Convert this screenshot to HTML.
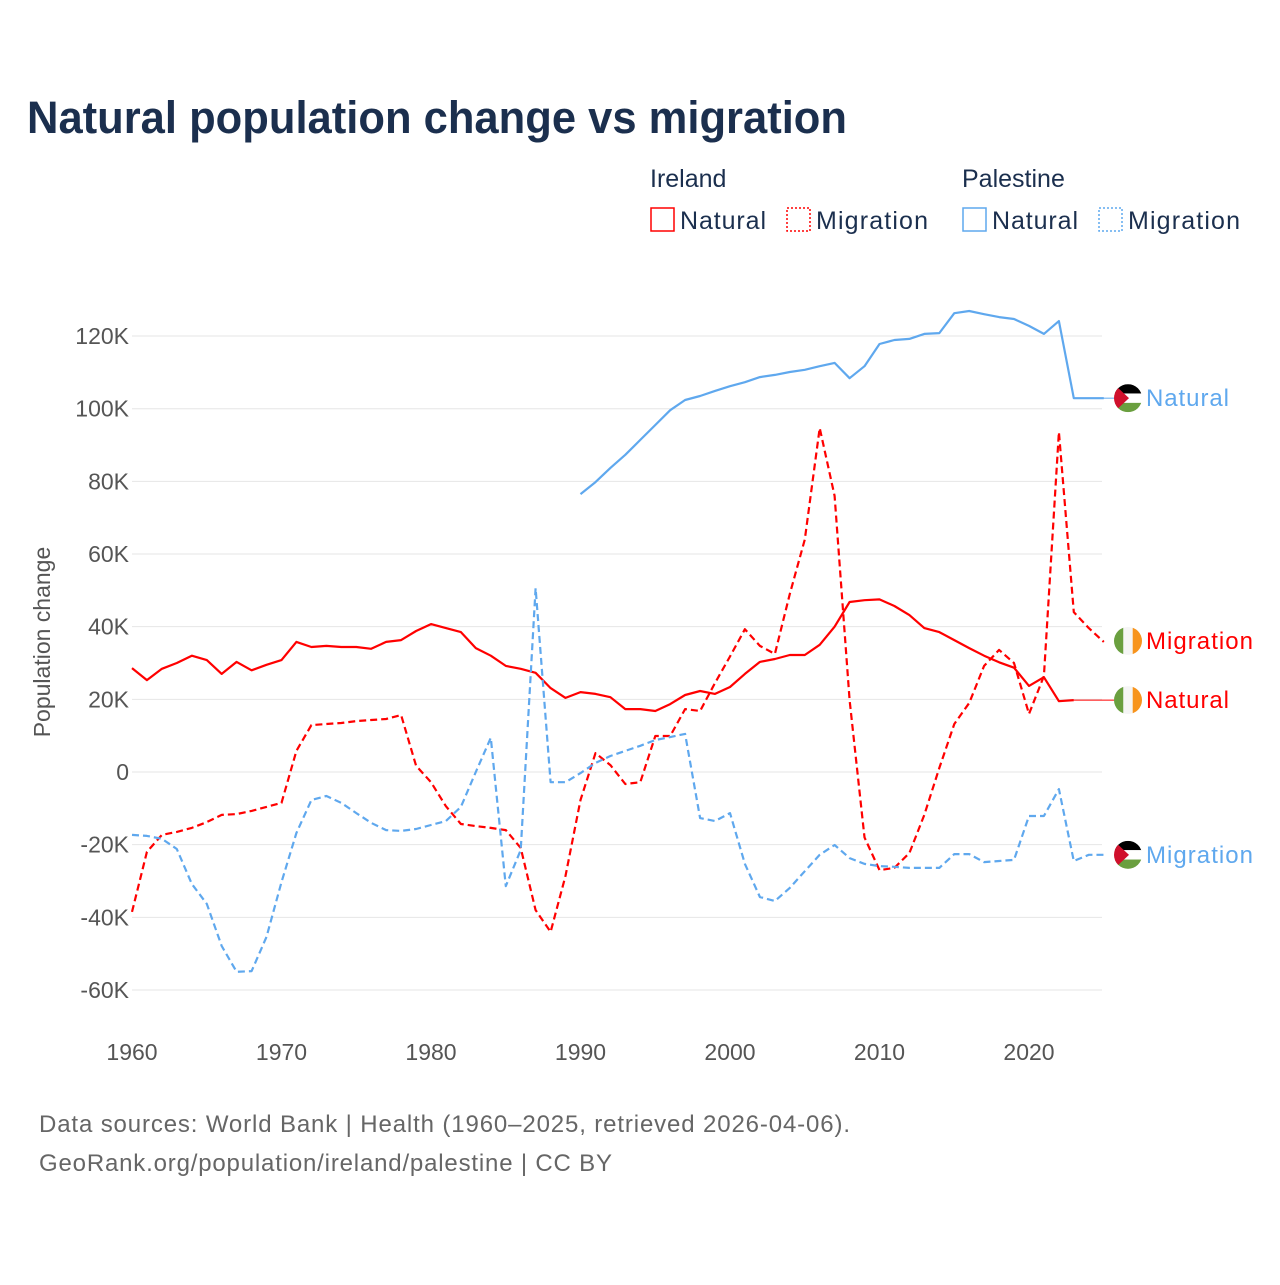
<!DOCTYPE html>
<html><head><meta charset="utf-8"><style>
body{margin:0;background:#fff;}
svg text{font-family:"Liberation Sans",sans-serif;}
</style></head><body>
<svg id="chart" width="1280" height="1280" viewBox="0 0 1280 1280" xmlns="http://www.w3.org/2000/svg">
<defs>
<clipPath id="c1"><circle cx="0" cy="0" r="14"/></clipPath>
</defs>
<text x="27" y="133" font-size="45" font-weight="bold" fill="#1b2f4e" textLength="820" lengthAdjust="spacingAndGlyphs">Natural population change vs migration</text>
<g font-size="25" fill="#1b2f4e">
<text x="650" y="187">Ireland</text>
<text x="962" y="187">Palestine</text>
<g><rect x="651" y="208" width="23" height="23" fill="none" stroke="#f00" stroke-width="1.5"/><text x="680" y="229" textLength="86">Natural</text></g>
<g><rect x="787" y="208" width="23" height="23" fill="none" stroke="#f00" stroke-width="1.5" stroke-dasharray="2,2"/><text x="816" y="229" textLength="112">Migration</text></g>
<g><rect x="963" y="208" width="23" height="23" fill="none" stroke="#5fa8ee" stroke-width="1.5"/><text x="992" y="229" textLength="86">Natural</text></g>
<g><rect x="1099" y="208" width="23" height="23" fill="none" stroke="#5fa8ee" stroke-width="1.5" stroke-dasharray="2,2"/><text x="1128" y="229" textLength="112">Migration</text></g>
</g>
<g id="grid"></g><g id="yticks"></g><g id="xticks"></g><g id="series"></g><g id="labels"></g>
<text transform="translate(50,642) rotate(-90)" text-anchor="middle" font-size="23" fill="#555">Population change</text>
<text x="39" y="1132" font-size="24" fill="#666" textLength="811">Data sources: World Bank | Health (1960–2025, retrieved 2026-04-06).</text>
<text x="39" y="1171" font-size="24" fill="#666" textLength="573">GeoRank.org/population/ireland/palestine | CC BY</text>
</svg>
<script>
const yTicks=[-60,-40,-20,0,20,40,60,80,100,120];
const yTickLabels=["-60K","-40K","-20K","0","20K","40K","60K","80K","100K","120K"];
const xTicks=[1960,1970,1980,1990,2000,2010,2020];
const irlNatural=[28.6,25.3,28.4,30,32,30.8,27,30.3,28,29.5,30.8,35.8,34.4,34.7,34.4,34.4,33.9,35.8,36.3,38.8,40.7,39.6,38.5,34.1,32,29.2,28.4,27.3,23.1,20.4,22,21.5,20.6,17.3,17.3,16.8,18.7,21.2,22.3,21.5,23.4,27,30.3,31.1,32.2,32.2,35,40,46.8,47.3,47.5,45.7,43.2,39.6,38.5,36.3,34.1,32,30.2,28.7,23.7,26.1,19.5,19.8];
const irlMigration=[-38.5,-22,-17.3,-16.5,-15.4,-13.8,-11.8,-11.6,-10.7,-9.6,-8.5,5.8,12.9,13.2,13.5,14,14.3,14.6,15.7,1.7,-2.8,-9.4,-14.3,-14.9,-15.4,-16,-20.9,-38,-44,-28.6,-7.7,5.2,1.9,-3.3,-2.8,9.9,9.9,17.3,16.8,24.5,31.8,39.3,34.7,32.5,49,64,94.7,76,19.8,-18,-27,-26.4,-22.3,-11.8,1.1,13.2,19,29.2,33.6,30,16,26.4,93.6,44,39.6,35.8];
const palNatural=[76.5,79.8,83.7,87.3,91.4,95.5,99.6,102.4,103.5,104.9,106.2,107.3,108.7,109.3,110.1,110.7,111.7,112.6,108.4,111.7,117.8,118.9,119.2,120.6,120.8,126.3,126.9,126,125.2,124.7,122.8,120.6,124.1,102.9,102.9,102.9];
const palMigration=[-17.3,-17.6,-18.4,-21.2,-30.8,-36.3,-47.9,-55,-54.8,-45.4,-30.3,-16.8,-7.7,-6.6,-8.5,-11.3,-14,-16,-16.2,-15.7,-14.6,-13.5,-9.6,0,9.4,-31.4,-21.5,50.6,-2.8,-2.8,-0.3,2.5,4.4,5.8,7.2,8.8,9.6,10.5,-12.7,-13.5,-11.3,-25.3,-34.4,-35.5,-31.9,-27.3,-22.8,-20.1,-23.7,-25.3,-25.9,-26.1,-26.4,-26.4,-26.4,-22.6,-22.6,-24.8,-24.5,-24.2,-12.1,-12.1,-4.7,-24.5,-22.8,-22.8];
const NS="http://www.w3.org/2000/svg";
const X=yr=>132+(yr-1960)*14.95;
const Y=v=>772-v*3.633;
const X0=132,X1=1102;
function mk(tag,attrs,parent){const e=document.createElementNS(NS,tag);for(const k in attrs)e.setAttribute(k,attrs[k]);parent.appendChild(e);return e;}
const grid=document.getElementById('grid'),yt=document.getElementById('yticks'),xt=document.getElementById('xticks'),ser=document.getElementById('series'),lab=document.getElementById('labels');
yTicks.forEach((t,i)=>{
 const l=mk('line',{x1:X0,x2:X1,y1:Y(t),y2:Y(t),stroke:'#e6e6e6','stroke-width':1},grid);
 
 
 const tx=mk('text',{x:129,y:Y(t)+8,'text-anchor':'end','font-size':23,fill:'#555'},yt);
 tx.textContent=yTickLabels[i];
 
 
});
xTicks.forEach(t=>{
 const tx=mk('text',{x:X(t),y:1060,'text-anchor':'middle','font-size':23,fill:'#555'},xt);
 tx.textContent=t;
 
 
});
function line(vals,start,color,dash,name){
 const d=vals.map((v,i)=>(i?'L':'M')+X(start+i).toFixed(1)+','+Y(v).toFixed(1)).join('');
 const p=mk('path',{d:d,fill:'none',stroke:color,'stroke-width':2.2,'stroke-linejoin':'round'},ser);
 if(dash)p.setAttribute('stroke-dasharray','7,4');
 
 
 return Y(vals[vals.length-1]);
}
const yIN=line(irlNatural,1960,'#f00',false,'ireland-natural-line');
const xINend=X(1960+irlNatural.length-1);
const c=mk('line',{x1:xINend,x2:1114,y1:yIN,y2:yIN,stroke:'#f00','stroke-width':1},ser);


const yIM=line(irlMigration,1960,'#f00',true,'ireland-migration-line');
const yPN=line(palNatural,1990,'#5fa8ee',false,'palestine-natural-line');
const yPM=line(palMigration,1960,'#5fa8ee',true,'palestine-migration-line');
const c2=mk('line',{x1:X1,x2:1114,y1:yPN,y2:yPN,stroke:'#5fa8ee','stroke-width':1},ser);


function flag(type,y,text,color,name,w){
 const g=mk('g',{transform:'translate(1128,'+y+')'},lab);
 
 
 const f=mk('g',{'clip-path':'url(#c1)'},g);
 if(type==='pse'){
  mk('rect',{x:-14,y:-14,width:28,height:9.4,fill:'#000'},f);
  mk('rect',{x:-14,y:-4.7,width:28,height:9.4,fill:'#fff'},f);
  mk('rect',{x:-14,y:4.7,width:28,height:9.4,fill:'#6a9f3f'},f);
  mk('polygon',{points:'-14,-14 1,0 -14,14',fill:'#d0102c'},f);
 }else{
  mk('rect',{x:-14,y:-14,width:9.4,height:28,fill:'#6a9f3f'},f);
  mk('rect',{x:-4.7,y:-14,width:9.4,height:28,fill:'#f5f5f5'},f);
  mk('rect',{x:4.7,y:-14,width:9.4,height:28,fill:'#f7941d'},f);
 }
 const t=mk('text',{x:18,y:8,'font-size':24,fill:color,textLength:w},g);
 t.textContent=text;
}
flag('pse',yPN,'Natural','#5fa8ee','palestine-natural-label',83);
flag('irl',yIM-1,'Migration','#f00','ireland-migration-label',107);
flag('irl',yIN,'Natural','#f00','ireland-natural-label',83);
flag('pse',yPM,'Migration','#5fa8ee','palestine-migration-label',107);
</script>
</body></html>
